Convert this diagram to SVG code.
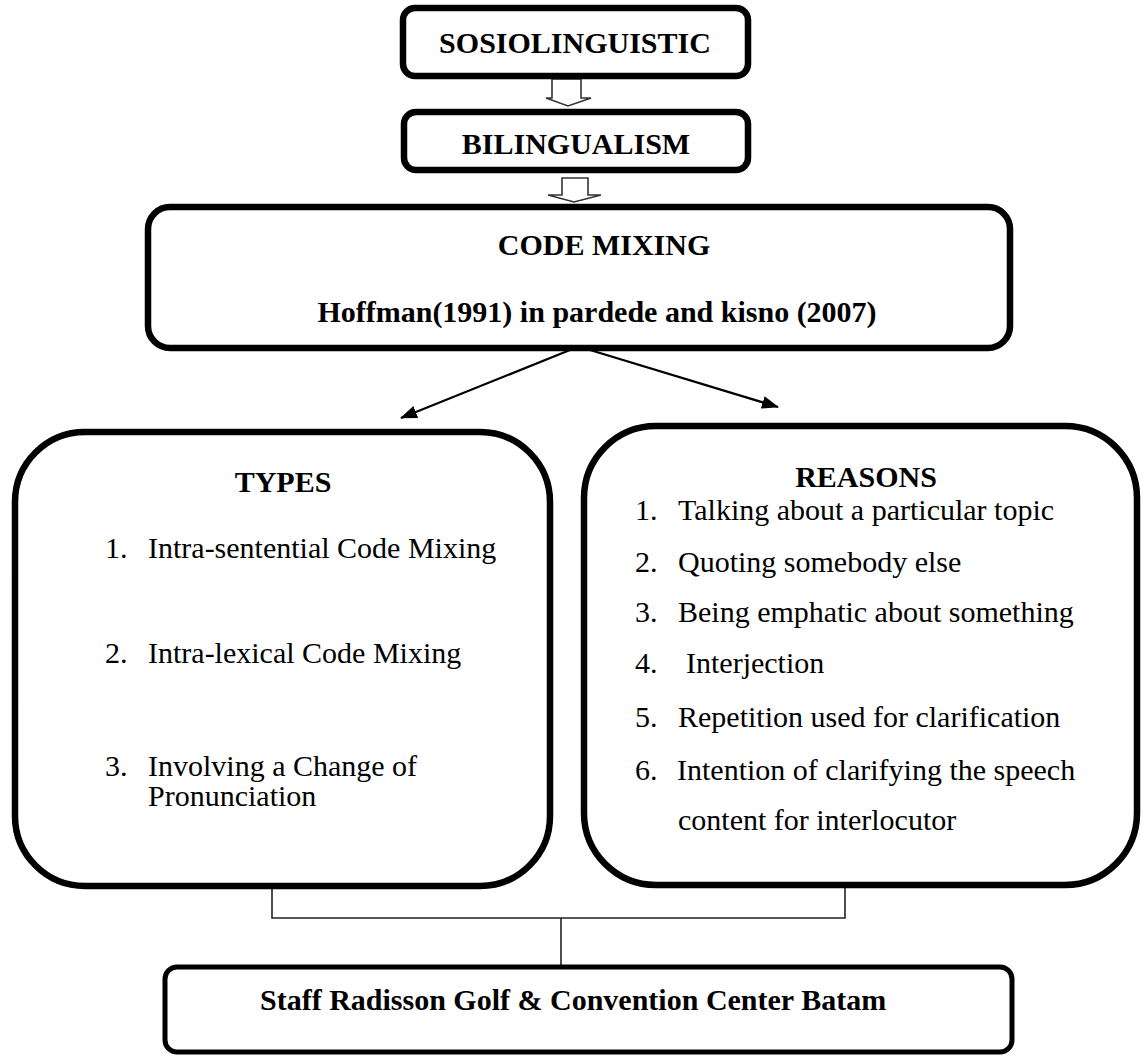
<svg xmlns="http://www.w3.org/2000/svg" width="1144" height="1061" viewBox="0 0 1144 1061">
<style>
.box{fill:#fff;stroke:#000;stroke-width:6.5}
.bx2{fill:#fff;stroke:#000;stroke-width:5}
.hb{font-family:"Liberation Serif","Times New Roman",serif;font-weight:bold;font-size:30px;fill:#000}
.tx{font-family:"Liberation Serif","Times New Roman",serif;font-size:30px;fill:#000}
.con{fill:none;stroke:#222;stroke-width:1.6}
.harrow{fill:#fff;stroke:#333;stroke-width:1.6}
.arr{stroke:#000;stroke-width:2.2;fill:none}
</style>
<defs>
<marker id="ah" viewBox="0 0 17 13" refX="16" refY="6.5" markerWidth="17" markerHeight="13" orient="auto" markerUnits="userSpaceOnUse">
<path d="M0,0 L17,6.5 L0,13 z" fill="#000"/>
</marker>
</defs>
<rect width="1144" height="1061" fill="#fff"/>
<g id="connectors">
<polygon class="harrow" points="552,79 581,79 581,98 591,98 568,106 546,98 552,98"/>
<polygon class="harrow" points="562,178 588,178 588,195 601,195 574,202 548,195 562,195"/>
<line class="arr" x1="570" y1="350" x2="401" y2="418" marker-end="url(#ah)"/>
<line class="arr" x1="590" y1="350" x2="778" y2="407" marker-end="url(#ah)"/>
<polyline class="con" points="272,886 272,918 845,918 845,885"/>
<line class="con" x1="561" y1="918" x2="561" y2="967"/>
</g>
<g id="sosiolinguistic">
<rect class="box" x="403" y="8" width="345" height="68" rx="12"/>
<text class="hb" x="575" y="53" text-anchor="middle">SOSIOLINGUISTIC</text>
</g>
<g id="bilingualism">
<rect class="box" x="404" y="112" width="344" height="58" rx="12"/>
<text class="hb" x="576" y="154" text-anchor="middle">BILINGUALISM</text>
</g>
<g id="code-mixing">
<rect class="box" x="148" y="207" width="862" height="141" rx="22"/>
<text class="hb" x="604" y="255" text-anchor="middle">CODE MIXING</text>
<text class="hb" x="597" y="322" text-anchor="middle">Hoffman(1991) in pardede and kisno (2007)</text>
</g>
<g id="types">
<rect class="box" x="15" y="432" width="535" height="454" rx="70"/>
<text class="hb" x="283" y="492" text-anchor="middle">TYPES</text>
<text class="tx" x="105" y="558">1.</text>
<text class="tx" x="148" y="558">Intra-sentential Code Mixing</text>
<text class="tx" x="105" y="663">2.</text>
<text class="tx" x="148" y="663">Intra-lexical Code Mixing</text>
<text class="tx" x="105" y="776">3.</text>
<text class="tx" x="148" y="776">Involving a Change of</text>
<text class="tx" x="148" y="806">Pronunciation</text>
</g>
<g id="reasons">
<rect class="box" x="584" y="426" width="553" height="459" rx="72"/>
<text class="hb" x="866" y="487" text-anchor="middle">REASONS</text>
<text class="tx" x="635" y="520">1.</text>
<text class="tx" x="678" y="520">Talking about a particular topic</text>
<text class="tx" x="635" y="572">2.</text>
<text class="tx" x="678" y="572">Quoting somebody else</text>
<text class="tx" x="635" y="622">3.</text>
<text class="tx" x="678" y="622">Being emphatic about something</text>
<text class="tx" x="635" y="673">4.</text>
<text class="tx" x="686" y="673">Interjection</text>
<text class="tx" x="635" y="727">5.</text>
<text class="tx" x="678" y="727">Repetition used for clarification</text>
<text class="tx" x="635" y="780">6.</text>
<text class="tx" x="677" y="780">Intention of clarifying the speech</text>
<text class="tx" x="678" y="830">content for interlocutor</text>
</g>
<g id="staff">
<rect class="bx2" x="165" y="967" width="847" height="85" rx="12"/>
<text class="hb" x="260" y="1010">Staff Radisson Golf &amp; Convention Center Batam</text>
</g>
</svg>
